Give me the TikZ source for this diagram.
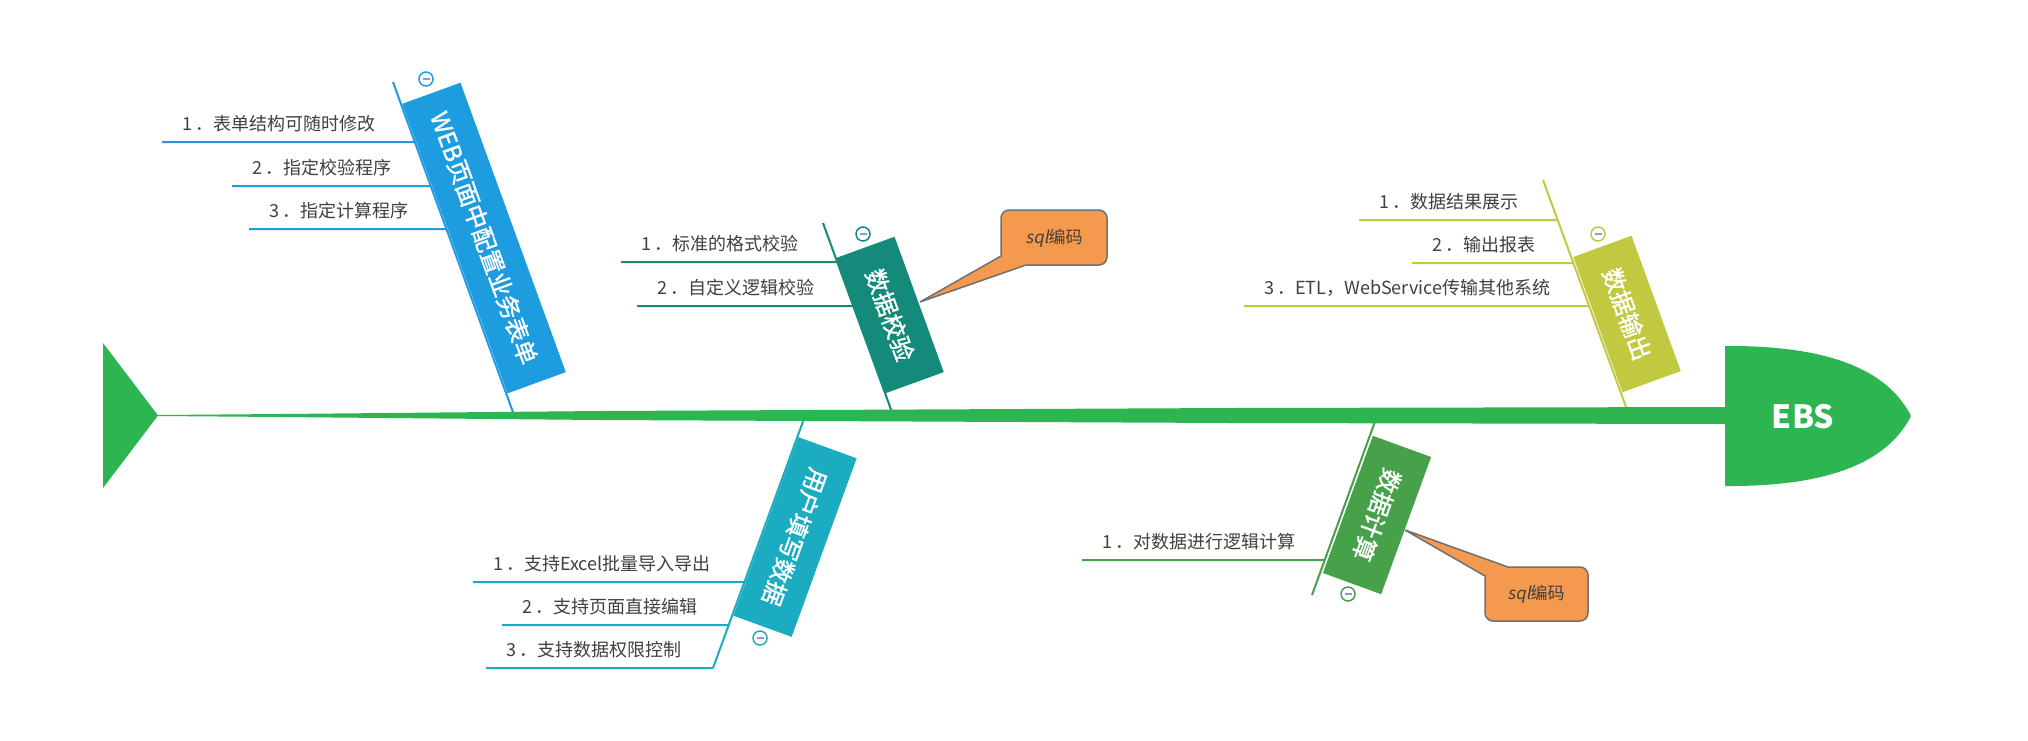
\documentclass[tikz,border=0pt]{standalone}
\usepackage{fontspec}
\setmainfont{Noto Sans CJK SC}
\newfontfamily\slnt[FakeSlant=0.2]{Noto Sans CJK SC}
\newfontfamily\titlefont[FakeBold=1.2]{Noto Sans CJK SC}
\usetikzlibrary{calc}
\definecolor{spinec}{HTML}{2CB550}
\definecolor{cweb}{HTML}{1E9CE0}
\definecolor{cchk}{HTML}{148A7B}
\definecolor{cout}{HTML}{C1C940}
\definecolor{cusr}{HTML}{1CACC2}
\definecolor{ccal}{HTML}{47A14B}
\definecolor{corg}{HTML}{F4994D}
\definecolor{cbrd}{HTML}{707070}
\definecolor{ctxt}{HTML}{404040}
\definecolor{cminus}{HTML}{8E9AD4}
\tikzset{
  itemtext/.style={anchor=west, inner sep=0pt, text=ctxt, font=\fontsize{18}{20}\selectfont},
  bone/.style={line width=2pt},
  catbox/.style={inner sep=0pt, minimum height=62pt, text=white, font=\titlefont\fontsize{24}{26}\selectfont},
  minusc/.style={circle, draw, fill=white, line width=1.5pt, minimum size=14pt, inner sep=0pt,
    path picture={\draw[cminus, line width=1.6pt] ([xshift=-3.5pt]path picture bounding box.center) -- ([xshift=3.5pt]path picture bounding box.center);}},
  callout/.style={fill=corg, draw=cbrd, line width=1.5pt},
  calltext/.style={text=ctxt, font=\fontsize{17}{19}\selectfont, inner sep=0pt},
}
\newcommand\nb[1]{#1\hspace{3pt}．}
% name, colour, x start, y, bone top, bone bottom, text
\newcommand\fbitem[7]{%
  \coordinate (#1s) at (#3,#4);
  \coordinate (#1f) at (3000,#4);
  \coordinate (#1e) at (intersection of #1s--#1f and #5--#6);
  \draw[bone,#2] (#1s) -- (#1e);
  \node[itemtext] (#1) at ($(#1s)+(20,-18)$) {#7};
}
\begin{document}
\begin{tikzpicture}[x=1pt,y=-1pt]
\fill[white] (0,0) rectangle (2028,740);
\useasboundingbox (0,0) rectangle (2028,740);

% bones
\coordinate (webT) at (393,82);   \coordinate (webB) at (514,415);
\coordinate (chkT) at (823,223);  \coordinate (chkB) at (893,415);
\coordinate (outT) at (1543,180); \coordinate (outB) at (1629,415);
\coordinate (usrT) at (805,416);  \coordinate (usrB) at (713,668);
\coordinate (calT) at (1377,416); \coordinate (calB) at (1312,595);
\draw[bone,cweb] (webT) -- (webB);
\draw[bone,cchk] (chkT) -- (chkB);
\draw[bone,cout] (outT) -- (outB);
\draw[bone,cusr] (usrT) -- (usrB);
\draw[bone,ccal] (calT) -- (calB);

% items
\fbitem{w1}{cweb}{162}{142}{webT}{webB}{\nb{1}表单结构可随时修改}
\fbitem{w2}{cweb}{232}{186}{webT}{webB}{\nb{2}指定校验程序}
\fbitem{w3}{cweb}{249}{229}{webT}{webB}{\nb{3}指定计算程序}
\fbitem{k1}{cchk}{621}{262}{chkT}{chkB}{\nb{1}标准的格式校验}
\fbitem{k2}{cchk}{637}{306}{chkT}{chkB}{\nb{2}自定义逻辑校验}
\fbitem{o1}{cout}{1359}{220}{outT}{outB}{\nb{1}数据结果展示}
\fbitem{o2}{cout}{1412}{263}{outT}{outB}{\nb{2}输出报表}
\fbitem{o3}{cout}{1244}{306}{outT}{outB}{\nb{3}ETL，WebService传输其他系统}
\fbitem{u1}{cusr}{473}{582}{usrT}{usrB}{\nb{1}支持Excel批量导入导出}
\fbitem{u2}{cusr}{502}{625}{usrT}{usrB}{\nb{2}支持页面直接编辑}
\fbitem{u3}{cusr}{486}{668}{usrT}{usrB}{\nb{3}支持数据权限控制}
\fbitem{c1}{ccal}{1082}{560}{calT}{calB}{\nb{1}对数据进行逻辑计算}

% spine, tail and head
\fill[spinec] (158,415) -- (280,414) -- (600,411) -- (1230,408) -- (1727,407)
  -- (1727,424) -- (1230,423) -- (600,420) -- (280,417) -- (158,416) -- cycle;
\fill[spinec] (103,343) -- (158,415.5) -- (103,488) -- cycle;
\fill[spinec] (1725,346) -- (1735,346) .. controls (1840,347) and (1890,375) .. (1911,416)
  .. controls (1890,457) and (1840,485) .. (1735,486) -- (1725,486) -- cycle;
\node[text=white, inner sep=0pt, font=\fontsize{32}{34}\selectfont\bfseries] (ebs) at (1803,417) {EBS};

% category boxes
\node[catbox, fill=cweb, rotate=-70, minimum width=308pt] (web) at (484,238) {WEB页面中配置业务表单};
\node[catbox, fill=cchk, rotate=-70, minimum width=144pt] (chk) at (890,315) {数据校验};
\node[catbox, fill=cout, rotate=-70, minimum width=144pt] (out) at (1627,314) {数据输出};
\node[catbox, fill=cusr, rotate=-110, minimum width=190pt] (usr) at (795,537) {用户填写数据};
\node[catbox, fill=ccal, rotate=-110, minimum width=146pt] (cal) at (1377,515) {数据计算};

% collapse markers
\node[minusc, draw=cweb] (mweb) at (426,79) {};
\node[minusc, draw=cchk] (mchk) at (863,234) {};
\node[minusc, draw=cout] (mout) at (1598,234) {};
\node[minusc, draw=cusr] (musr) at (760,638) {};
\node[minusc, draw=ccal] (mcal) at (1348,594) {};

% callouts
\coordinate (tip1) at (920,302);
\draw[callout] (1026,265) -- (1099,265) .. controls (1103.4,265) and (1107,261.4) .. (1107,257)
  -- (1107,218) .. controls (1107,213.6) and (1103.4,210) .. (1099,210)
  -- (1009,210) .. controls (1004.6,210) and (1001,213.6) .. (1001,218)
  -- (1001,256) -- (tip1) -- cycle;
\node[calltext] (sql1) at (1054,238) {{\slnt sql}编码};

\coordinate (tip2) at (1405,530);
\draw[callout] (1508,567) -- (1580,567) .. controls (1584.4,567) and (1588,570.6) .. (1588,575)
  -- (1588,613) .. controls (1588,617.4) and (1584.4,621) .. (1580,621)
  -- (1493,621) .. controls (1488.6,621) and (1485,617.4) .. (1485,613)
  -- (1485,576) -- (tip2) -- cycle;
\node[calltext] (sql2) at (1536,594) {{\slnt sql}编码};
\end{tikzpicture}
\end{document}
